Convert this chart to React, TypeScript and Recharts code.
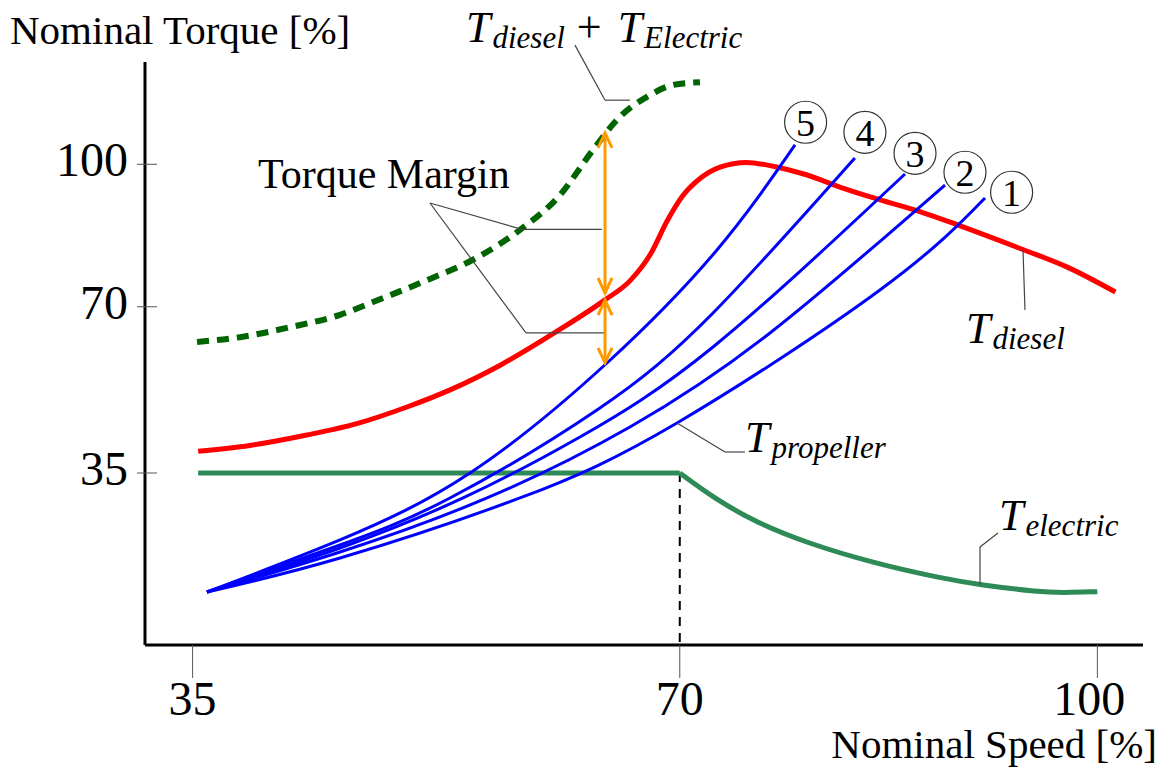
import { ComposedChart, Line, XAxis, YAxis, ReferenceLine, ReferenceDot } from 'recharts';

const SERIF = '"Liberation Serif", "DejaVu Serif", "Noto Serif", serif';

const X_DOMAIN = [31.58, 103.28];
const Y_DOMAIN = [-1.22, 121.54];
const X_TICKS = [35, 70, 100];
const Y_TICKS = [35, 70, 100];

// [speed %, torque %]
const DIESEL: number[][] = [
  [35.4, 39.6], [39.1, 40.8], [43.2, 43.0], [46.8, 45.4], [50.4, 48.9], [53.5, 52.5],
  [57.1, 57.7], [61.1, 64.7], [64.6, 71.4], [66.4, 75.4], [67.9, 81.1], [69.1, 88.1],
  [70.2, 93.3], [71.5, 97.1], [72.9, 99.4], [74.8, 100.4], [76.7, 99.6], [79.1, 97.8],
  [81.5, 95.2], [84.4, 92.5], [87.3, 90.0], [90.0, 87.2], [94.7, 82.0], [97.8, 78.4],
  [101.3, 73.1],
];

const DIESEL_PLUS_ELECTRIC: number[][] = [
  [35.32, 62.6], [38.41, 63.6], [42.0, 65.7], [45.59, 68.3], [47.96, 71.0], [51.84, 75.6],
  [55.14, 79.9], [58.52, 86.2], [61.39, 93.5], [63.76, 103.0], [65.7, 110.0], [67.64, 114.2],
  [69.51, 116.7], [71.45, 117.3],
];

// flat part up to 70, then field weakening
const ELECTRIC: number[][] = [
  [35.4, 35], [70, 35], [72.5, 29.6], [75.55, 24.47], [79.14, 20.26], [83.88, 16.05],
  [88.7, 12.89], [91.57, 11.42], [95.88, 9.94], [97.5, 9.8], [100, 10.0],
];

const PROP_5: number[][] = [
  [36.03, 9.94], [45.59, 20.9], [54.93, 35.0], [64.77, 58.16], [72.67, 81.96], [78.28, 104.07],
];
const PROP_4: number[][] = [
  [36.03, 9.94], [45.59, 19.84], [53.49, 29.74], [64.05, 48.27], [72.39, 68.69], [82.58, 101.33],
];
const PROP_3: number[][] = [
  [36.03, 9.94], [45.59, 19.21], [54.43, 29.74], [62.83, 42.58], [72.39, 61.53], [86.18, 97.96],
];
const PROP_2: number[][] = [
  [36.03, 9.94], [45.59, 18.37], [56.15, 29.74], [66.42, 44.69], [76.48, 64.48], [89.05, 95.64],
];
const PROP_1: number[][] = [
  [36.03, 9.94], [45.59, 17.1], [58.52, 29.74], [69.8, 45.53], [84.38, 73.53], [91.93, 92.91],
];

const PROPELLERS = [PROP_5, PROP_4, PROP_3, PROP_2, PROP_1];

// circled curve numbers
const PROP_LABELS = [
  { n: 5, x: 79.04, y: 108.85 },
  { n: 4, x: 83.3, y: 106.74 },
  { n: 3, x: 86.9, y: 102.32 },
  { n: 2, x: 90.49, y: 98.32 },
  { n: 1, x: 93.84, y: 94.11 },
];

const MARGIN_ARROWS = [
  { x: 64.63, from: 106.6, to: 72.9 },
  { x: 64.63, from: 71.4, to: 58.2 },
];

const LEADERS: number[][][] = [
  [[62.47, 125.1], [64.63, 113.5], [66.42, 113.5]],
  [[52.05, 91.85], [58.66, 86.3], [64.4, 86.3]],
  [[52.05, 91.85], [58.95, 64.5], [64.63, 64.5]],
  [[94.66, 81.96], [94.8, 69.3]],
  [[69.8, 45.53], [73.25, 39.42], [74.68, 39.42]],
  [[91.57, 11.42], [91.57, 19.42], [92.86, 22.37]],
];

const toPts = (arr: number[][]) => arr.map(([x, y]) => ({ x, y }));

const RED = '#ff0000';
const BLUE = '#0000ff';
const SEA = '#2e8b57';
const DARK_GREEN = '#006400';
const ORANGE = '#ff9900';

function XTick(props: any) {
  const { x, y, payload } = props;
  const v = payload.value;
  return (
    <g>
      <line x1={x} x2={x} y1={y} y2={y + 33} stroke="#555" strokeWidth={1} />
      <text x={v === 100 ? x - 8 : x} y={y + 70} textAnchor="middle" fontSize={48} style={{ fontFamily: SERIF }} fill="#000">
        {v}
      </text>
    </g>
  );
}

function YTick(props: any) {
  const { x, y, payload } = props;
  return (
    <g>
      <line x1={x - 8} x2={x + 12} y1={y} y2={y} stroke="#555" strokeWidth={1} />
      <text x={x - 17} y={y + 12} textAnchor="end" fontSize={48} style={{ fontFamily: SERIF }} fill="#000">
        {payload.value}
      </text>
    </g>
  );
}

function arrowShape(p: any) {
  const { x1, y1, x2, y2 } = p;
  const dx = x2 - x1;
  const dy = y2 - y1;
  const len = Math.hypot(dx, dy) || 1;
  const ux = dx / len;
  const uy = dy / len;
  const nx = -uy;
  const ny = ux;
  const head = (tx: number, ty: number, sx: number, sy: number) =>
    `${tx - sx * 15 + nx * 7},${ty - sy * 15 + ny * 7} ${tx},${ty} ${tx - sx * 15 - nx * 7},${ty - sy * 15 - ny * 7}`;
  return (
    <g>
      <line x1={x1} y1={y1} x2={x2} y2={y2} stroke={ORANGE} strokeWidth={3} />
      <polyline points={head(x2, y2, ux, uy)} fill="none" stroke={ORANGE} strokeWidth={3} />
      <polyline points={head(x1, y1, -ux, -uy)} fill="none" stroke={ORANGE} strokeWidth={3} />
    </g>
  );
}

function MathLabel({ x, y, main, sub }: { x: number; y: number; main: string; sub: string }) {
  return (
    <text x={x} y={y} fill="#000" style={{ fontFamily: SERIF }}>
      <tspan fontStyle="italic" fontSize={44}>{main}</tspan>
      <tspan fontStyle="italic" fontSize={31} dx={2} dy={6}>{sub}</tspan>
    </text>
  );
}

export default function App() {
  return (
    <div style={{ position: 'absolute', left: 0, top: 0, width: 1167, height: 771, background: '#fff', fontFamily: SERIF }}>
      <ComposedChart width={1167} height={771} margin={{ top: 62, right: 24, bottom: 0, left: 0 }}>
        <XAxis
          type="number"
          dataKey="x"
          domain={X_DOMAIN}
          ticks={X_TICKS}
          interval={0}
          allowDataOverflow
          height={126}
          axisLine={{ stroke: '#000', strokeWidth: 3 }}
          tickLine={false}
          tickSize={0}
          tickMargin={0}
          tick={XTick}
        />
        <YAxis
          type="number"
          dataKey="y"
          domain={Y_DOMAIN}
          ticks={Y_TICKS}
          interval={0}
          allowDataOverflow
          width={145}
          axisLine={{ stroke: '#000', strokeWidth: 3 }}
          tickLine={false}
          tickSize={0}
          tickMargin={0}
          tick={YTick}
        />

        <ReferenceLine
          segment={[{ x: 70, y: 35 }, { x: 70, y: Y_DOMAIN[0] }]}
          stroke="#000"
          strokeWidth={2}
          strokeDasharray="9 7"
          ifOverflow="visible"
        />

        <Line data={toPts(DIESEL_PLUS_ELECTRIC)} dataKey="y" type="monotone" stroke={DARK_GREEN} strokeWidth={6}
          strokeDasharray="12 8" dot={false} activeDot={false} isAnimationActive={false} />
        <Line data={toPts(DIESEL)} dataKey="y" type="monotone" stroke={RED} strokeWidth={5}
          dot={false} activeDot={false} isAnimationActive={false} />
        <Line data={toPts(ELECTRIC.slice(0, 2))} dataKey="y" type="linear" stroke={SEA} strokeWidth={5}
          dot={false} activeDot={false} isAnimationActive={false} />
        <Line data={toPts(ELECTRIC.slice(1))} dataKey="y" type="basis" stroke={SEA} strokeWidth={5}
          dot={false} activeDot={false} isAnimationActive={false} />
        {PROPELLERS.map((p, i) => (
          <Line key={'p' + i} data={toPts(p)} dataKey="y" type="natural" stroke={BLUE} strokeWidth={3}
            dot={false} activeDot={false} isAnimationActive={false} />
        ))}

        {LEADERS.flatMap((pts, i) =>
          pts.slice(1).map((pt, j) => (
            <ReferenceLine
              key={'l' + i + '-' + j}
              segment={[{ x: pts[j][0], y: pts[j][1] }, { x: pt[0], y: pt[1] }]}
              stroke="#444"
              strokeWidth={1.2}
              ifOverflow="visible"
            />
          ))
        )}

        {MARGIN_ARROWS.map((a, i) => (
          <ReferenceLine
            key={'a' + i}
            segment={[{ x: a.x, y: a.from }, { x: a.x, y: a.to }]}
            shape={arrowShape}
            ifOverflow="visible"
          />
        ))}

        {PROP_LABELS.map((l) => (
          <ReferenceDot
            key={'c' + l.n}
            x={l.x}
            y={l.y}
            r={21}
            fill="#fff"
            stroke="#333"
            strokeWidth={1.2}
            ifOverflow="visible"
            label={{ value: String(l.n), position: 'center', fontSize: 38, style: { fontFamily: SERIF }, fill: '#000' }}
          />
        ))}
      </ComposedChart>

      <svg width={1167} height={771} style={{ position: 'absolute', left: 0, top: 0, pointerEvents: 'none', fontFamily: SERIF }}>
        <text x={10} y={44} fontSize={41} fill="#000">Nominal Torque [%]</text>
        <text x={1157} y={758} fontSize={41} fill="#000" textAnchor="end">Nominal Speed [%]</text>
        <text x={258} y={188} fontSize={42} fill="#000">Torque Margin</text>

        <text x={466} y={42} fill="#000">
          <tspan fontStyle="italic" fontSize={44}>T</tspan>
          <tspan fontStyle="italic" fontSize={31} dx={2} dy={6}>diesel</tspan>
          <tspan fontSize={44} dx={12} dy={-6}>+</tspan>
          <tspan fontStyle="italic" fontSize={44} dx={16}>T</tspan>
          <tspan fontStyle="italic" fontSize={31} dx={2} dy={6}>Electric</tspan>
        </text>
        <MathLabel x={966} y={343} main="T" sub="diesel" />
        <MathLabel x={745} y={452} main="T" sub="propeller" />
        <MathLabel x={999} y={530} main="T" sub="electric" />
      </svg>
    </div>
  );
}
